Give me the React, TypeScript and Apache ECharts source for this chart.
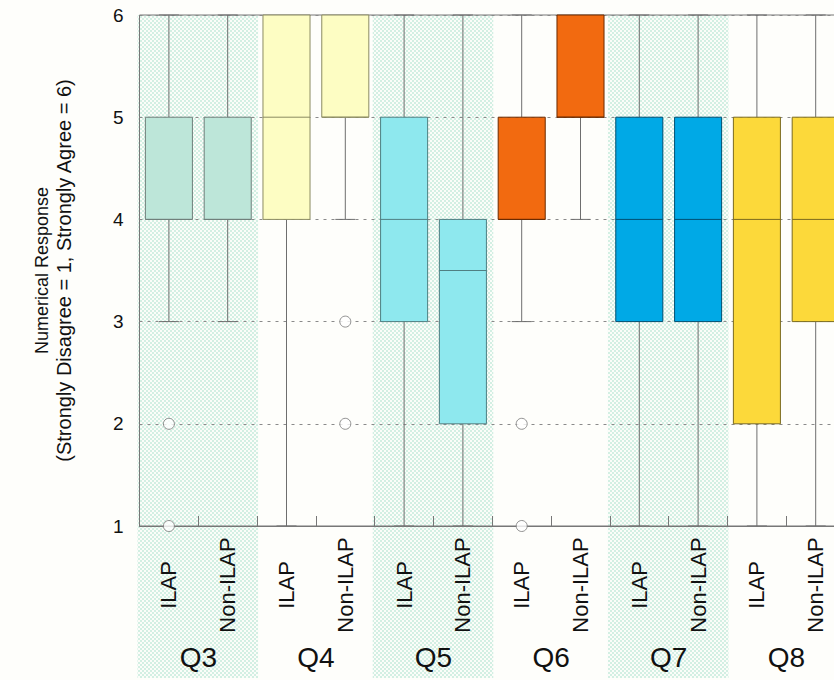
import React, { useEffect, useRef } from "react";
import * as echarts from "echarts";

const groups = ["Q3", "Q4", "Q5", "Q6", "Q7", "Q8"];
const subLabels = ["ILAP", "Non-ILAP", "ILAP", "Non-ILAP", "ILAP", "Non-ILAP", "ILAP", "Non-ILAP", "ILAP", "Non-ILAP", "ILAP", "Non-ILAP"];
const yTicks = [1, 2, 3, 4, 5, 6];

// [min, Q1, median, Q3, max] per category
const boxStats = [
  [3, 4, 4, 5, 6],
  [3, 4, 4, 5, 6],
  [1, 4, 5, 6, 6],
  [4, 5, 5, 6, 6],
  [1, 3, 4, 5, 6],
  [1, 2, 3.5, 4, 6],
  [3, 4, 4, 5, 6],
  [4, 5, 5, 6, 6],
  [1, 3, 4, 5, 6],
  [1, 3, 4, 5, 6],
  [1, 2, 4, 5, 6],
  [1, 3, 4, 5, 6],
];
// outliers: [category index, value]
const outliers = [
  [0, 2],
  [0, 1],
  [3, 3],
  [3, 2],
  [6, 2],
  [6, 1],
];
const shadedGroups = [0, 2, 4];

const fillColors = ["#bde6d9", "#fdfdc3", "#8ee8ee", "#f26a10", "#00a9e6", "#fcd93a"];
const borderColors = ["#6f7f7a", "#8a8a62", "#4f7f82", "#6a2a00", "#004f70", "#7a6a1e"];

const FONT = "Liberation Sans, Arial, sans-serif";

function makePattern() {
  const c = document.createElement("canvas");
  c.width = 4;
  c.height = 4;
  const ctx = c.getContext("2d")!;
  ctx.fillStyle = "#fbfdf9";
  ctx.fillRect(0, 0, 4, 4);
  ctx.fillStyle = "#d3efe3";
  ctx.fillRect(0, 0, 2, 2);
  ctx.fillRect(2, 2, 2, 2);
  return c;
}

export default function App() {
  const ref = useRef<HTMLDivElement>(null);
  useEffect(() => {
    if (!ref.current) return;
    const chart = echarts.init(ref.current, undefined, { renderer: "svg" });
    const pattern = makePattern();
    const bandFill: any = { image: pattern, repeat: "repeat" };

    const option: any = {
      animation: false,
      backgroundColor: "#fefefb",
      grid: {
        left: 139.5,
        top: 15,
        width: 705.6,
        height: 511,
        show: true,
        borderColor: "#777",
        borderWidth: 1,
        backgroundColor: "transparent",
        z: 0,
      },
      xAxis: [
        {
          type: "category",
          data: subLabels,
          boundaryGap: true,
          position: "bottom",
          axisLine: { show: true, lineStyle: { color: "#777", width: 1 } },
          axisTick: { show: true, inside: true, length: 10, interval: 0, lineStyle: { color: "#777" } },
          axisLabel: {
            interval: 0,
            rotate: 90,
            margin: 59,
            align: "center",
            verticalAlign: "middle",
            fontSize: 22,
            color: "#111",
            fontFamily: FONT,
          },
          splitLine: { show: false },
          z: 3,
        },
        {
          type: "category",
          data: groups,
          position: "bottom",
          axisLine: { show: false },
          axisTick: { show: false },
          axisLabel: {
            interval: 0,
            margin: 131,
            verticalAlign: "middle",
            fontSize: 28,
            color: "#111",
            fontFamily: FONT,
          },
          splitLine: { show: false },
        },
      ],
      yAxis: {
        type: "value",
        min: 1,
        max: 6,
        interval: 1,
        axisLine: { show: false },
        axisTick: { show: false },
        axisLabel: { fontSize: 19, margin: 16, color: "#111", fontFamily: FONT },
        splitLine: { show: true, lineStyle: { color: "#8a8a8a", type: [3, 5], width: 1 } },
        name: "{a|Numerical Response}\n{b|(Strongly Disagree = 1, Strongly Agree = 6)}",
        nameLocation: "middle",
        nameRotate: 90,
        nameGap: 65,
        nameTextStyle: {
          fontSize: 19,
          lineHeight: 23,
          color: "#111",
          fontFamily: FONT,
          align: "center",
          rich: {
            a: { fontSize: 18, lineHeight: 22, color: "#111", fontFamily: FONT },
            b: { fontSize: 20, lineHeight: 22, color: "#111", fontFamily: FONT },
          },
        },
        z: 0,
      },
      series: [
        {
          type: "custom",
          name: "bands",
          xAxisIndex: 0,
          yAxisIndex: 0,
          z: -1,
          clip: false,
          silent: true,
          data: shadedGroups.map((g) => [g * 2]),
          renderItem: (params: any, api: any) => {
            const c = api.value(0);
            const bw = api.size([1, 0])[0];
            const p0 = api.coord([c, 6]);
            const p1 = api.coord([c + 1, 1]);
            const x0 = p0[0] - bw / 2 - 2;
            const x1 = p1[0] + bw / 2 + 1;
            return {
              type: "rect",
              shape: { x: x0, y: p0[1], width: x1 - x0, height: p1[1] - p0[1] + 152 },
              style: { fill: bandFill },
            };
          },
        },
        {
          type: "custom",
          name: "boxes",
          xAxisIndex: 0,
          yAxisIndex: 0,
          z: 2,
          clip: false,
          data: boxStats.map((s, i) => [i, ...s]),
          renderItem: (params: any, api: any) => {
            const c = api.value(0);
            const mn = api.value(1);
            const q1 = api.value(2);
            const md = api.value(3);
            const q3 = api.value(4);
            const mx = api.value(5);
            const bw = api.size([1, 0])[0];
            const boxW = bw * 0.8;
            const capW = bw * 0.34;
            const pMin = api.coord([c, mn]);
            const pQ1 = api.coord([c, q1]);
            const pMd = api.coord([c, md]);
            const pQ3 = api.coord([c, q3]);
            const pMax = api.coord([c, mx]);
            const x = pMin[0];
            const g = Math.floor(c / 2);
            const fill = fillColors[g];
            const border = borderColors[g];
            const wStyle = { stroke: "#6e6e6e", lineWidth: 1 };
            const children: any[] = [];
            if (mx > q3) {
              children.push({ type: "line", shape: { x1: x, y1: pQ3[1], x2: x, y2: pMax[1] }, style: wStyle });
              children.push({ type: "line", shape: { x1: x - capW / 2, y1: pMax[1], x2: x + capW / 2, y2: pMax[1] }, style: wStyle });
            }
            if (mn < q1) {
              children.push({ type: "line", shape: { x1: x, y1: pQ1[1], x2: x, y2: pMin[1] }, style: wStyle });
              children.push({ type: "line", shape: { x1: x - capW / 2, y1: pMin[1], x2: x + capW / 2, y2: pMin[1] }, style: wStyle });
            }
            children.push({
              type: "rect",
              shape: { x: x - boxW / 2, y: pQ3[1], width: boxW, height: pQ1[1] - pQ3[1] },
              style: { fill, stroke: border, lineWidth: 1 },
            });
            children.push({
              type: "line",
              shape: { x1: x - boxW / 2, y1: pMd[1], x2: x + boxW / 2, y2: pMd[1] },
              style: { stroke: border, lineWidth: 1 },
            });
            return { type: "group", children };
          },
        },
        {
          type: "scatter",
          name: "outliers",
          xAxisIndex: 0,
          yAxisIndex: 0,
          z: 3,
          clip: false,
          symbol: "circle",
          symbolSize: 11,
          itemStyle: { color: "#ffffff", borderColor: "#777", borderWidth: 1 },
          data: outliers,
        },
      ],
    };
    chart.setOption(option);
    return () => chart.dispose();
  }, []);
  return (
    <div
      style={{ position: "fixed", left: 0, top: 0, width: 834, height: 680, overflow: "hidden", background: "#fefefb" }}
    >
      <div ref={ref} style={{ width: 870, height: 680 }} />
    </div>
  );
}
